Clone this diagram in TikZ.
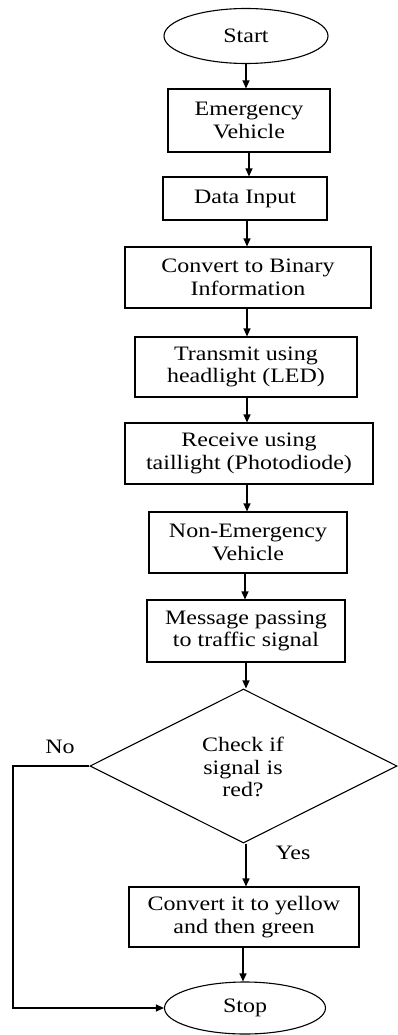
\documentclass[tikz,border=0pt]{standalone}
\usepackage{fontspec}
\setmainfont{Liberation Serif}[FakeStretch=1.17]
\usetikzlibrary{shapes.geometric,arrows.meta}
\begin{document}
\begin{tikzpicture}[x=1pt,y=-1pt,
  every node/.style={font=\fontsize{20.5}{22.5}\selectfont},
  box/.style={draw, line width=1.1pt, rectangle, inner sep=0pt, align=center},
  term/.style={draw, line width=1.1pt, ellipse, inner sep=0pt},
  dec/.style={draw, line width=1.1pt, diamond, inner sep=0pt, align=center},
  arr/.style={line width=1.1pt, -{Triangle[length=8pt,width=7pt]}},
  lbl/.style={inner sep=0pt}
]
\useasboundingbox (0,0) rectangle (398,1035);

\node[term, minimum width=164pt, minimum height=55pt] (start) at (246,36) {Start};
\node[box, minimum width=162pt, minimum height=63pt] (emv) at (249,120.5) {Emergency\\Vehicle};
\node[box, minimum width=164pt, minimum height=43pt] (data) at (245,198.5) {Data Input};
\node[box, minimum width=246pt, minimum height=61pt] (conv) at (248,277.5) {Convert to Binary\\Information};
\node[box, minimum width=222pt, minimum height=60pt] (trans) at (246,367) {Transmit using\\headlight (LED)};
\node[box, minimum width=248pt, minimum height=61pt] (recv) at (249,453.5) {Receive using\\taillight (Photodiode)};
\node[box, minimum width=198pt, minimum height=61pt] (nonem) at (248,542.5) {Non-Emergency\\Vehicle};
\node[box, minimum width=198pt, minimum height=62pt] (msg) at (246,631) {Message passing\\to traffic signal};
\node[dec, minimum width=307pt, minimum height=154pt] (chk) at (243.5,766) {};
\node[lbl, align=center] (chktxt) at (243,767) {Check if\\signal is\\red?};
\node[box, minimum width=230pt, minimum height=60pt] (yel) at (244,917) {Convert it to yellow\\and then green};
\node[term, minimum width=161pt, minimum height=52pt] (stop) at (245,1008) {Stop};

\node[lbl] (no) at (60,747) {No};
\node[lbl] (yes) at (293,853) {Yes};

\draw[arr] (start.south) -- (start.south |- emv.north);
\draw[arr] (emv.south -| 249,0) -- (249,0 |- data.north);
\draw[arr] (247,0 |- data.south) -- (247,0 |- conv.north);
\draw[arr] (247,0 |- conv.south) -- (247,0 |- trans.north);
\draw[arr] (247,0 |- trans.south) -- (247,0 |- recv.north);
\draw[arr] (247,0 |- recv.south) -- (247,0 |- nonem.north);
\draw[arr] (245,0 |- nonem.south) -- (245,0 |- msg.north);
\draw[arr] (246,0 |- msg.south) -- (246,0 |- chk.north);
\draw[arr] (chk.south -| 246,0) -- (246,0 |- yel.north);
\draw[arr] (243,0 |- yel.south) -- (243,0 |- stop.north);
\coordinate (corner) at (13,0 |- chk.west);
\draw[arr] (chk.west) -- (corner) |- (stop.west);
\end{tikzpicture}
\end{document}
